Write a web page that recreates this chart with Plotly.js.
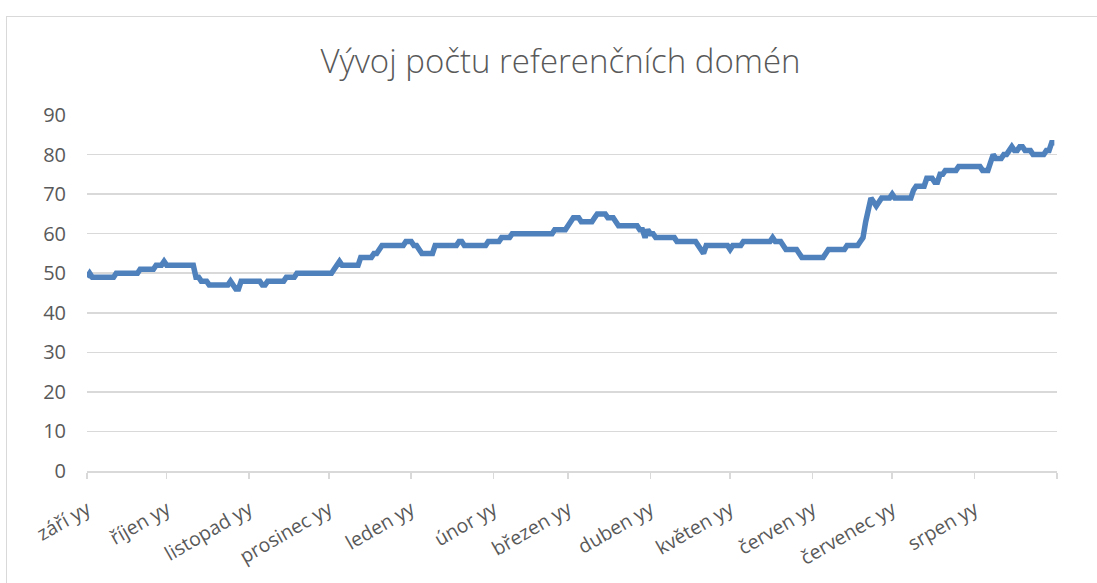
<!DOCTYPE html>
<html>
<head>
<meta charset="utf-8">
<script src="https://cdn.plot.ly/plotly-3.0.1.min.js"></script>
<style>
  html, body { margin: 0; padding: 0; background: #ffffff; overflow: hidden; }
  #wrap { position: relative; width: 1097px; height: 583px; overflow: hidden; }
  #chart { position: absolute; left: 0; top: 0; width: 1097px; height: 583px; }
  #frame { position: absolute; left: 6px; top: 16px; width: 1300px; height: 800px;
           border: 1px solid #d9d9d9; pointer-events: none; }
</style>
</head>
<body>
<div id="wrap">
  <div id="chart"></div>
  <div id="frame"></div>
</div>
<script>
// Month tick labels and the day index where each month starts
const monthLabels = ['září yy', 'říjen yy', 'listopad yy', 'prosinec yy', 'leden yy', 'únor yy',
                     'březen yy', 'duben yy', 'květen yy', 'červen yy', 'červenec yy', 'srpen yy', ''];
const monthStartDays = [0, 30, 61, 91, 122, 153, 181, 212, 242, 273, 303, 334, 365];

// Daily number of referring domains, Sept 1 .. Aug 31
const domainCounts = [
  49, 50, 49, 49, 49, 49, 49, 49, 49, 49,
  49, 50, 50, 50, 50, 50, 50, 50, 50, 50,
  51, 51, 51, 51, 51, 51, 52, 52, 52, 53,
  52, 52, 52, 52, 52, 52, 52, 52, 52, 52,
  52, 49, 49, 48, 48, 48, 47, 47, 47, 47,
  47, 47, 47, 47, 48, 47, 46, 46, 48, 48,
  48, 48, 48, 48, 48, 48, 47, 47, 48, 48,
  48, 48, 48, 48, 48, 49, 49, 49, 49, 50,
  50, 50, 50, 50, 50, 50, 50, 50, 50, 50,
  50, 50, 50, 51, 52, 53, 52, 52, 52, 52,
  52, 52, 52, 54, 54, 54, 54, 54, 55, 55,
  56, 57, 57, 57, 57, 57, 57, 57, 57, 57,
  58, 58, 58, 57, 57, 56, 55, 55, 55, 55,
  55, 57, 57, 57, 57, 57, 57, 57, 57, 57,
  58, 58, 57, 57, 57, 57, 57, 57, 57, 57,
  57, 58, 58, 58, 58, 58, 59, 59, 59, 59,
  60, 60, 60, 60, 60, 60, 60, 60, 60, 60,
  60, 60, 60, 60, 60, 60, 61, 61, 61, 61,
  61, 62, 63, 64, 64, 64, 63, 63, 63, 63,
  63, 64, 65, 65, 65, 65, 64, 64, 64, 63,
  62, 62, 62, 62, 62, 62, 62, 62, 61, 61,
  59, 61, 60, 60, 59, 59, 59, 59, 59, 59,
  59, 59, 58, 58, 58, 58, 58, 58, 58, 58,
  57, 56, 55, 57, 57, 57, 57, 57, 57, 57,
  57, 57, 56, 57, 57, 57, 57, 58, 58, 58,
  58, 58, 58, 58, 58, 58, 58, 58, 59, 58,
  58, 58, 57, 56, 56, 56, 56, 56, 55, 54,
  54, 54, 54, 54, 54, 54, 54, 54, 55, 56,
  56, 56, 56, 56, 56, 56, 57, 57, 57, 57,
  57, 58, 59, 63, 66, 69, 68, 67, 68, 69,
  69, 69, 69, 70, 69, 69, 69, 69, 69, 69,
  69, 71, 72, 72, 72, 72, 74, 74, 74, 73,
  73, 75, 75, 76, 76, 76, 76, 76, 77, 77,
  77, 77, 77, 77, 77, 77, 77, 76, 76, 76,
  78, 80, 79, 79, 79, 80, 80, 81, 82, 81,
  81, 82, 82, 81, 81, 81, 80, 80, 80, 80,
  80, 81, 81, 83, 83
];

const dayIndex = domainCounts.map((_, i) => i);
const yTicks = [0, 10, 20, 30, 40, 50, 60, 70, 80, 90];

const trace = {
  x: dayIndex,
  y: domainCounts,
  type: 'scatter',
  mode: 'lines',
  line: { color: '#4f81bd', width: 5.5, shape: 'linear' },
  hoverinfo: 'x+y'
};

const layout = {
  width: 1097,
  height: 583,
  paper_bgcolor: '#ffffff',
  plot_bgcolor: '#ffffff',
  margin: { l: 87, r: 40, t: 115, b: 112 },
  showlegend: false,
  title: {
    text: 'Vývoj počtu referenčních domén',
    font: { family: 'Open Sans, sans-serif', size: 33, color: '#595959', weight: 300 },
    x: 0.511, xanchor: 'center',
    y: 0.895, yanchor: 'middle'
  },
  xaxis: {
    range: [0, 365],
    tickmode: 'array',
    tickvals: monthStartDays,
    ticktext: monthLabels,
    tickangle: -30,
    ticks: 'outside',
    ticklen: 6,
    tickcolor: '#d9d9d9',
    tickwidth: 1.5,
    ticklabelstandoff: 12,
    showgrid: false,
    showline: true,
    linecolor: '#d9d9d9',
    linewidth: 1.5,
    zeroline: false,
    tickfont: { family: 'Open Sans, sans-serif', size: 19.5, color: '#595959' },
    fixedrange: true
  },
  yaxis: {
    range: [0, 90],
    tickmode: 'array',
    tickvals: yTicks,
    ticks: '',
    showgrid: true,
    gridcolor: '#d9d9d9',
    gridwidth: 1.5,
    zeroline: false,
    showline: false,
    ticklabelstandoff: 20,
    tickfont: { family: 'Open Sans, sans-serif', size: 20, color: '#595959' },
    fixedrange: true
  }
};

Plotly.newPlot('chart', [trace], layout, { displayModeBar: false, staticPlot: true });
</script>
</body>
</html>
